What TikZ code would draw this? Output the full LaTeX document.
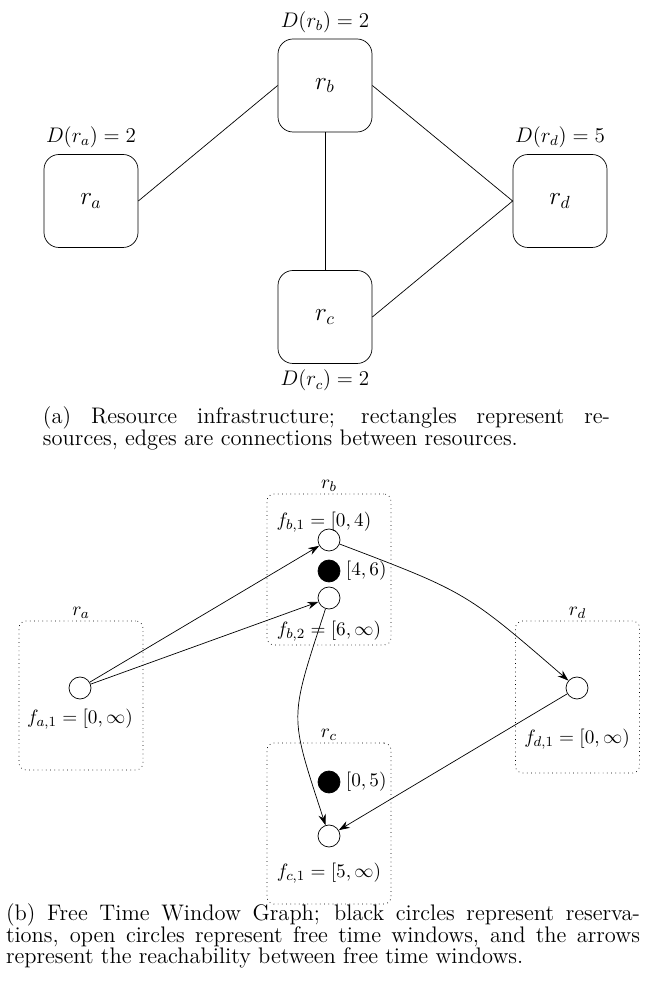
\documentclass[tikz,border=0pt]{standalone}
\usepackage{amsmath, amssymb}
\usepackage{tikz}
\usetikzlibrary{arrows.meta}
\usetikzlibrary{positioning}

\begin{document}
\begin{tikzpicture}
		[thin,
		> = {Stealth[length=2.2mm, width=1.5mm]},
		resource/.style = {draw, rounded corners=3mm, minimum width=1.88cm, minimum height=1.86cm, font=\Large},
		dlabel/.style = {font=\large},
		group/.style = {draw, dotted, rounded corners, minimum width=2.48cm},
		window/.style = {draw, circle, minimum size=0.44cm, inner sep=0pt},
		booked/.style = {window, fill=black},
		tw/.style = {inner sep=1pt, font=\fontsize{11}{13}\selectfont},
		caption/.style = {align=justify, inner sep=0pt, font=\fontsize{12.8}{12.4}\selectfont}
		]
		\useasboundingbox (0,0) rectangle (13.06,19.62);

		% (a) resource infrastructure
		\node (ra) [resource, label={[dlabel]above:{$D(r_a) = 2$}}] at (1.82,15.6) {$r_a$};
		\node (rb) [resource, label={[dlabel]above:{$D(r_b) = 2$}}] at (6.5,17.91) {$r_b$};
		\node (rc) [resource, label={[dlabel]below:{$D(r_c) = 2$}}] at (6.5,13.28) {$r_c$};
		\node (rd) [resource, label={[dlabel]above:{$D(r_d) = 5$}}] at (11.2,15.6) {$r_d$};

		\draw (ra.east) -- (rb.west);
		\draw (rb.east) -- (rd.west);
		\draw (rb.south) -- (rc.north);
		\draw (rc.east) -- (rd.west);

		\node (capa) [caption, text width=11.34cm] at (6.53,11.06) {(a) Resource infrastructure; rectangles represent re-\linebreak sources, edges are connections between resources.};

		% (b) free time window graph
		\node (ga) [group, minimum height=2.98cm, label={[tw]above:{$r_a$}}] at (1.62,5.71) {};
		\node (gb) [group, minimum height=3.02cm, label={[tw]above:{$r_b$}}] at (6.58,8.23) {};
		\node (gc) [group, minimum height=3.22cm, label={[tw]above:{$r_c$}}] at (6.58,3.15) {};
		\node (gd) [group, minimum height=3.04cm, label={[tw]above:{$r_d$}}] at (11.55,5.68) {};

		\node (fa1) [window] at (1.6,5.86) {};
		\node (fb1) [window] at (6.58,8.82) {};
		\node (xb) [booked] at (6.58,8.2) {};
		\node (fb2) [window] at (6.58,7.66) {};
		\node (xc) [booked] at (6.58,3.98) {};
		\node (fc1) [window] at (6.58,2.9) {};
		\node (fd1) [window] at (11.54,5.86) {};

		\node (fa1l) [tw, below=0.15cm of fa1] {$f_{a,1} = [0, \infty)$};
		\node (fb1l) [tw, above=-0.11cm of fb1, xshift=-0.1cm] {$f_{b,1} = [0, 4)$};
		\node (xbl) [tw, right=0.07cm of xb] {$[4, 6)$};
		\node (fb2l) [tw, below=0.19cm of fb2] {$f_{b,2} = [6, \infty)$};
		\node (xcl) [tw, right=0.07cm of xc] {$[0, 5)$};
		\node (fc1l) [tw, below=0.27cm of fc1] {$f_{c,1} = [5, \infty)$};
		\node (fd1l) [tw, below=0.55cm of fd1] {$f_{d,1} = [0, \infty)$};

		\draw[->] (fa1) -- (fb1);
		\draw[->] (fa1) -- (fb2);
		\draw[->] (fb1) to[bend left=10, looseness=1.3] (fd1);
		\draw[->] (fb2) to[bend right=18, looseness=1.4] (fc1);
		\draw[->] (fd1) -- (fc1);

		\node (capb) [caption, text width=12.68cm] at (6.46,0.9) {(b) Free Time Window Graph; black circles represent reserva-\linebreak tions, open circles represent free time windows, and the arrows\linebreak represent the reachability between free time windows.};
	\end{tikzpicture}
\end{document}
